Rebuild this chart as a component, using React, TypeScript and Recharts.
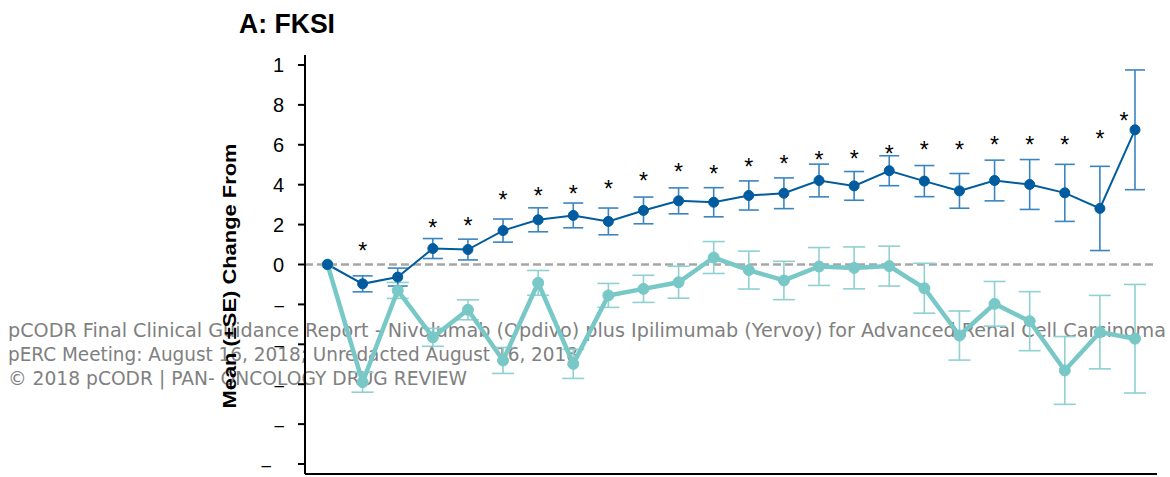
import React from 'react';
import { LineChart, Line, XAxis, YAxis, ErrorBar, ReferenceLine } from 'recharts';

// Assessment visits along the x-axis (tick labels not shown)
const visits = ['1', '2', '3', '4', '5', '6', '7', '8', '9', '10', '11', '12', '13', '14', '15', '16', '17', '18', '19', '20', '21', '22', '23', '24'];

// Arm 1 (dark blue): mean change from baseline and standard error
const arm1Mean = [0, -0.97, -0.63, 0.8, 0.75, 1.7, 2.24, 2.46, 2.16, 2.71, 3.19, 3.12, 3.46, 3.57, 4.21, 3.94, 4.7, 4.18, 3.69, 4.21, 4.01, 3.59, 2.81, 6.75];
const arm1SE = [0, 0.4, 0.45, 0.5, 0.52, 0.58, 0.6, 0.62, 0.67, 0.67, 0.65, 0.73, 0.73, 0.77, 0.82, 0.72, 0.75, 0.78, 0.87, 1.02, 1.25, 1.43, 2.11, 3.0];

// Arm 2 (teal): mean change from baseline and standard error
const arm2Mean = [0, -5.9, -1.3, -3.65, -2.27, -4.81, -0.92, -4.98, -1.55, -1.22, -0.89, 0.35, -0.28, -0.8, -0.1, -0.17, -0.08, -1.19, -3.56, -1.97, -2.84, -5.31, -3.39, -3.72];
const arm2SE = [0, 0.5, 0.4, 0.45, 0.5, 0.65, 0.62, 0.73, 0.6, 0.68, 0.8, 0.8, 0.95, 0.96, 0.95, 1.05, 1.0, 1.25, 1.23, 1.12, 1.48, 1.7, 1.84, 2.72];

// Level of the significance asterisk at each visit (null = not significant)
const sigLevel = [null, 0.95, null, 2.09, 2.17, 3.46, 3.66, 3.79, 4.05, 4.43, 4.88, 4.8, 5.13, 5.3, 5.5, 5.55, 5.8, 6.0, 6.0, 6.22, 6.25, 6.22, 6.52, 7.42];

const yTicks = [-10, -8, -6, -4, -2, 0, 2, 4, 6, 8, 10];

const data = visits.map((visit, i) => ({
  visit,
  arm1: arm1Mean[i],
  arm1SE: arm1SE[i],
  arm2: arm2Mean[i],
  arm2SE: arm2SE[i],
  sig: sigLevel[i],
}));

const BLUE = '#005c9e';
const BLUE_ERR = '#3a85c0';
const TEAL = '#78c8c7';
const TEAL_ERR = '#8ed1d0';
const SANS = "'Liberation Sans', Arial, sans-serif";

const YTick = (props: any) => {
  const { x, y, payload } = props;
  const v = payload.value as number;
  if (v < 0) {
    const dx = v <= -10 ? -13 : 0;
    return (
      <text x={x + dx} y={y} dy={6.5} textAnchor="end" fontSize={17} fontFamily={SANS} fill="#000">
        –
      </text>
    );
  }
  const label = v >= 10 ? '1' : String(v);
  return (
    <text x={x} y={y} dy={7} textAnchor="end" fontSize={20} fontFamily={SANS} fill="#000">
      {label}
    </text>
  );
};

const Star = (props: any) => {
  const { cx, cy, payload, index } = props;
  if (cx == null || cy == null || payload.sig == null) return <g key={`s${index}`} />;
  // nudge the asterisk aside when it would sit on the error bar
  const onBar = payload.sig <= payload.arm1 + payload.arm1SE && payload.sig >= payload.arm1 - payload.arm1SE;
  const dx = onBar ? -11 : 0;
  return (
    <text key={`s${index}`} x={cx + dx} y={cy + 13} textAnchor="middle" fontSize={23} fontFamily={SANS} fill="#000">
      *
    </text>
  );
};

export default function App() {
  return (
    <div style={{ position: 'absolute', left: 0, top: 0, width: 1170, height: 477 }}>
      <svg width={1170} height={477} style={{ position: 'absolute', left: 0, top: 0 }}>
        <g fill="#808080" fontFamily="'DejaVu Sans', sans-serif" fontSize={19.5}>
          <text x={8} y={337} textLength={1158} lengthAdjust="spacingAndGlyphs">
            pCODR Final Clinical Guidance Report - Nivolumab (Opdivo) plus Ipilimumab (Yervoy) for Advanced Renal Cell Carcinoma
          </text>
          <text x={8} y={361} textLength={570} lengthAdjust="spacingAndGlyphs">
            pERC Meeting: August 16, 2018; Unredacted August 16, 2018
          </text>
          <text x={8} y={385} textLength={459} lengthAdjust="spacingAndGlyphs">
            © 2018 pCODR | PAN- ONCOLOGY DRUG REVIEW
          </text>
        </g>
        <text x={239} y={33} fontWeight="bold" fontSize={27} fontFamily={SANS} textLength={96} lengthAdjust="spacingAndGlyphs" fill="#000">
          A: FKSI
        </text>
        <text
          x={235.5}
          y={276}
          transform="rotate(-90, 235.5, 276)"
          textAnchor="middle"
          fontWeight="bold"
          fontSize={19}
          fontFamily={SANS}
          textLength={265}
          lengthAdjust="spacingAndGlyphs"
          fill="#000"
        >
          Mean (±SE) Change From
        </text>
      </svg>
      <div style={{ position: 'absolute', left: 0, top: 0 }}>
        <LineChart width={1170} height={477} data={data} margin={{ top: 55, right: 13, bottom: 0, left: 0 }}>
          <XAxis
            dataKey="visit"
            type="category"
            scale="point"
            padding={{ left: 22.5, right: 22 }}
            height={3}
            tick={false}
            tickSize={6}
            axisLine={{ stroke: '#000', strokeWidth: 2 }}
            tickLine={{ stroke: '#000', strokeWidth: 2 }}
          />
          <YAxis
            type="number"
            domain={[-10.5, 10.5]}
            ticks={yTicks}
            width={305}
            tickSize={7}
            tickMargin={14}
            tick={<YTick />}
            axisLine={{ stroke: '#000', strokeWidth: 2 }}
            tickLine={{ stroke: '#000', strokeWidth: 2 }}
          />
          <ReferenceLine y={0} stroke="#a6a6a6" strokeWidth={2.5} strokeDasharray="8 4" />
          <Line
            dataKey="arm2"
            stroke={TEAL}
            strokeWidth={4.5}
            dot={{ r: 5.5, fill: TEAL, stroke: TEAL, strokeWidth: 1 }}
            activeDot={false}
            isAnimationActive={false}
          >
            <ErrorBar dataKey="arm2SE" width={11} stroke={TEAL_ERR} strokeWidth={1.6} />
          </Line>
          <Line
            dataKey="arm1"
            stroke={BLUE}
            strokeWidth={2}
            dot={{ r: 5, fill: BLUE, stroke: BLUE, strokeWidth: 1 }}
            activeDot={false}
            isAnimationActive={false}
          >
            <ErrorBar dataKey="arm1SE" width={10} stroke={BLUE_ERR} strokeWidth={1.6} />
          </Line>
          <Line dataKey="sig" stroke="none" dot={Star} activeDot={false} isAnimationActive={false} />
        </LineChart>
      </div>
    </div>
  );
}
